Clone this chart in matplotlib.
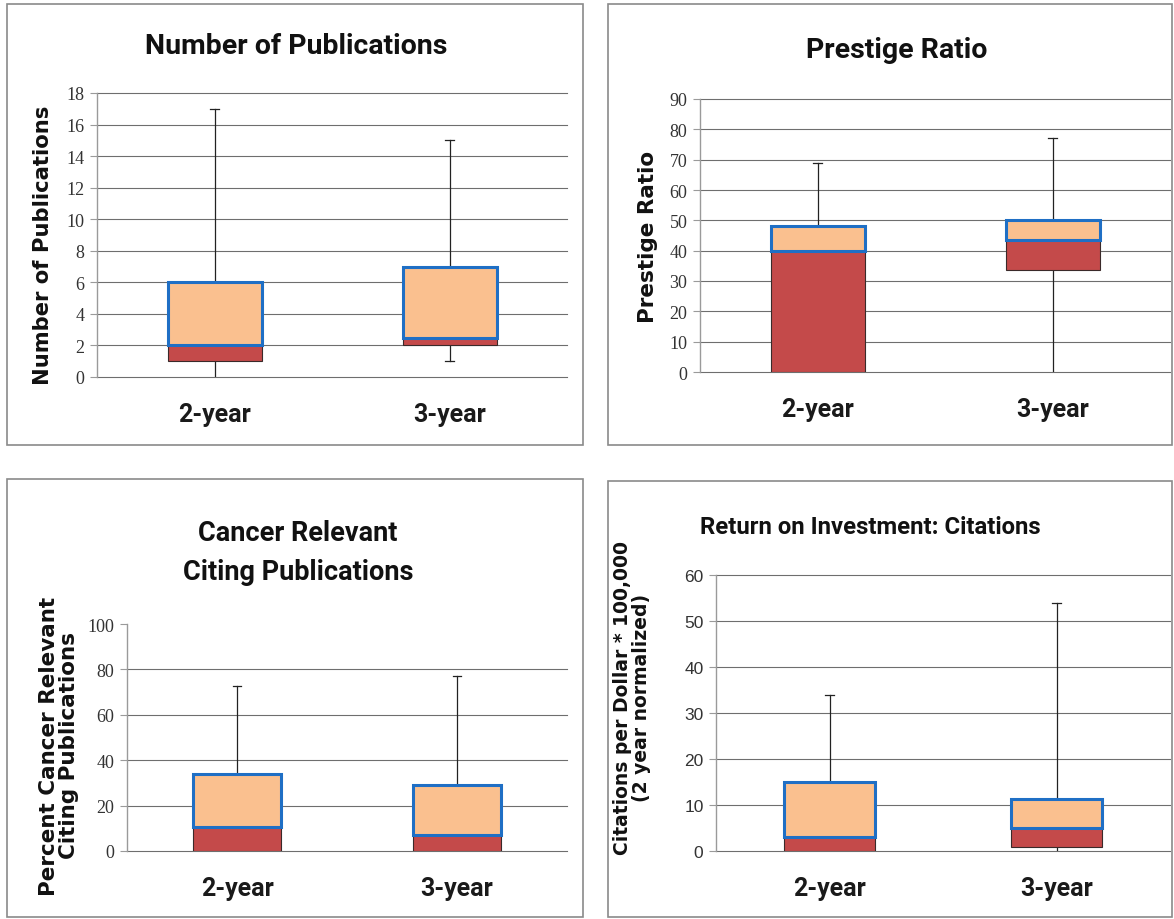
import matplotlib
matplotlib.use("Agg")
import matplotlib.pyplot as plt
from matplotlib.patches import Rectangle

categories = ["2-year", "3-year"]

# Panel 1: Number of Publications
pub_min = [0, 1]
pub_q1 = [1, 2]
pub_med = [2, 2.5]
pub_q3 = [6, 7]
pub_max = [17, 15]

# Panel 2: Prestige Ratio
pr_min = [0, 0]
pr_q1 = [0, 33.5]
pr_med = [40, 43.5]
pr_q3 = [48, 50]
pr_max = [69, 77]

# Panel 3: Cancer relevant citing publications (%)
cr_min = [0, 0]
cr_q1 = [0, 0]
cr_med = [10.7, 7.2]
cr_q3 = [34, 29]
cr_max = [72.5, 77]

# Panel 4: Return on investment: citations
roi_min = [0, 0]
roi_q1 = [0, 0.8]
roi_med = [3, 5]
roi_q3 = [15, 11.3]
roi_max = [34, 54]

W, H = 1174, 920
fig = plt.figure(figsize=(W / 100, H / 100), dpi=100)
fig.patch.set_facecolor("white")

RED = "#C44A4A"
ORANGE = "#FAC08F"
BLUE = "#1F6FC5"
GRID = "#6e6e6e"
TITLE_FONT = ["Roboto", "DejaVu Sans"]


def frame(x0, y0, x1, y1):
    r = Rectangle((x0 / W, 1 - y1 / H), (x1 - x0) / W, (y1 - y0) / H,
                  transform=fig.transFigure, fill=False,
                  edgecolor="#8a8a8a", lw=1.2)
    fig.add_artist(r)


def panel(px, title, ylabel, ymax, ystep, mins, q1, med, q3, maxs,
          title_xy, ylabel_xy, ylabel_size, tickfont, skip_top_grid=False,
          title_size=20, title_ls=1.2, ylabel_ls=1.0, ticksize=13):
    x0, y_top, x1, y_zero = px
    ax = fig.add_axes([x0 / W, 1 - y_zero / H, (x1 - x0) / W, (y_zero - y_top) / H])
    ax.set_xlim(-0.5, 1.5)
    ax.set_ylim(0, ymax)
    ticks = list(range(0, ymax + 1, ystep))
    ax.set_yticks(ticks)
    ax.set_yticklabels([str(t) for t in ticks], family=tickfont,
                       fontsize=ticksize, color="#333333")
    for t in ticks:
        if skip_top_grid and t == ymax:
            continue
        ax.axhline(t, color=GRID, lw=0.8, zorder=1, clip_on=False)
    for s in ["top", "right", "bottom"]:
        ax.spines[s].set_visible(False)
    ax.spines["left"].set_color("#9a9a9a")
    ax.spines["left"].set_linewidth(1.0)
    ax.tick_params(axis="y", length=5, color="#9a9a9a", pad=4)
    ax.set_xticks([0, 1])
    ax.set_xticklabels(categories, family=TITLE_FONT, fontweight="bold",
                       fontsize=18, color="#1a1a1a")
    ax.tick_params(axis="x", length=0, pad=18)
    bw = 0.4
    cw = 0.018
    for i in range(2):
        ax.plot([i, i], [mins[i], maxs[i]], color="#222222", lw=0.9, zorder=2)
        ax.plot([i - cw, i + cw], [maxs[i], maxs[i]], color="#222222",
                lw=0.9, zorder=2)
        if mins[i] > 0:
            ax.plot([i - cw, i + cw], [mins[i], mins[i]], color="#222222",
                    lw=0.9, zorder=2)
        ax.bar(i, med[i] - q1[i], bottom=q1[i], width=bw, color=RED,
               edgecolor="#3a2a2a", lw=0.8, zorder=3)
        ax.bar(i, q3[i] - med[i], bottom=med[i], width=bw, color=ORANGE,
               edgecolor=BLUE, lw=2.2, zorder=4)
    fig.text(title_xy[0] / W, 1 - title_xy[1] / H, title, ha="center",
             va="center", family=TITLE_FONT, fontweight="bold",
             fontsize=title_size, color="#111111", linespacing=title_ls)
    fig.text(ylabel_xy[0] / W, 1 - ylabel_xy[1] / H, ylabel,
             rotation=90, ha="center", va="center", family="DejaVu Sans",
             fontweight="bold", fontsize=ylabel_size, color="#111111",
             linespacing=ylabel_ls)
    return ax


frame(7, 5, 583, 446)
frame(608, 5, 1172, 446)
frame(7, 480, 583, 918)
frame(608, 482, 1172, 918)

serif = ["Liberation Serif", "DejaVu Serif"]
sans = ["Liberation Sans", "DejaVu Sans"]

panel((97, 94, 567, 378), "Number of Publications", "Number of Publications",
      18, 2, pub_min, pub_q1, pub_med, pub_q3, pub_max,
      (296, 47), (43, 245), 15.2, serif, title_size=20.5)

panel((700, 100, 1170, 373), "Prestige Ratio", "Prestige Ratio",
      90, 10, pr_min, pr_q1, pr_med, pr_q3, pr_max,
      (897, 50), (648, 237), 15.5, serif, title_size=20.5)

panel((127, 625, 567, 852), "Cancer Relevant\nCiting Publications",
      "Percent Cancer Relevant\nCiting Publications",
      100, 20, cr_min, cr_q1, cr_med, cr_q3, cr_max,
      (298, 553), (59, 746), 15.5, serif, skip_top_grid=True,
      title_size=19.5, title_ls=1.6, ylabel_ls=0.95)

panel((716, 576, 1170, 852), "Return on Investment: Citations",
      "Citations per Dollar * 100,000\n(2 year normalized)",
      60, 10, roi_min, roi_q1, roi_med, roi_q3, roi_max,
      (870, 528), (632, 698), 13.5, sans, title_size=17.2, ylabel_ls=1.0,
      ticksize=12.5)

fig.savefig("out.png", dpi=100)
